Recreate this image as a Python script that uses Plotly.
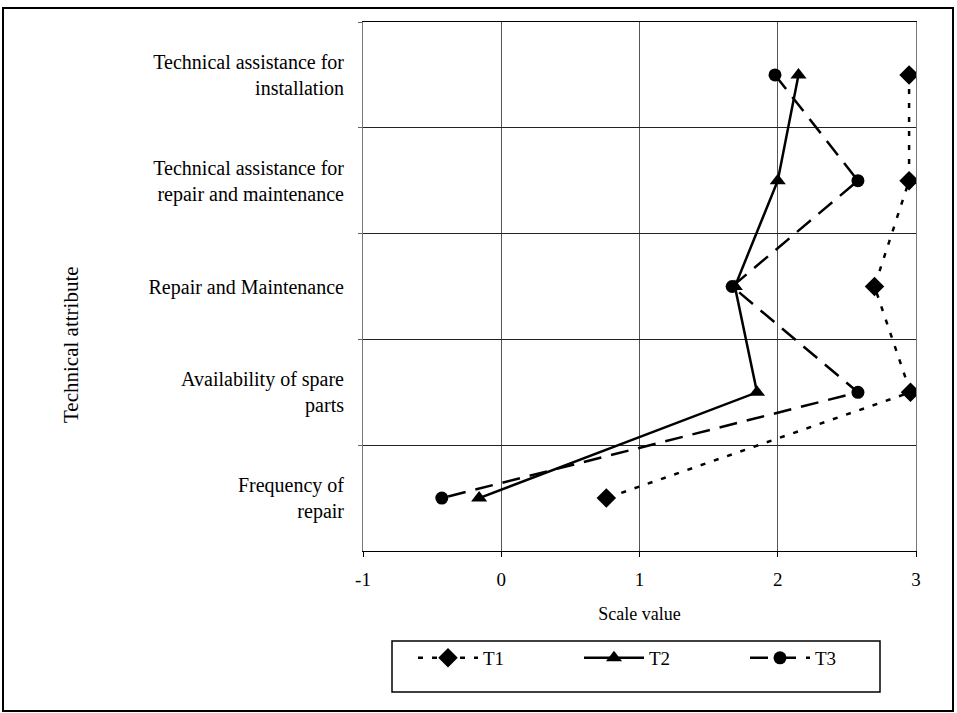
import plotly.graph_objects as go

# Categories (top to bottom as shown)
categories = [
    "Technical assistance for<br>installation",
    "Technical assistance for<br>repair and maintenance",
    "Repair and Maintenance",
    "Availability of spare<br>parts",
    "Frequency of<br>repair",
]
t1_values = [2.95, 2.95, 2.70, 2.96, 0.76]
t2_values = [2.15, 2.00, 1.69, 1.85, -0.16]
t3_values = [1.98, 2.58, 1.67, 2.58, -0.43]
x_ticks = [-1, 0, 1, 2, 3]
series_names = ["T1", "T2", "T3"]

FONT = "Liberation Serif, Times New Roman, serif"

fig = go.Figure()
fig.add_trace(go.Scatter(
    x=t1_values, y=categories, name=series_names[0], mode="lines+markers",
    line=dict(color="black", width=2.5, dash="5px,9px"),
    marker=dict(symbol="diamond", size=15, color="black"),
))
fig.add_trace(go.Scatter(
    x=t2_values, y=categories, name=series_names[1], mode="lines+markers",
    line=dict(color="black", width=2.5),
    marker=dict(symbol="triangle-up", size=14, color="black"),
))
fig.add_trace(go.Scatter(
    x=t3_values, y=categories, name=series_names[2], mode="lines+markers",
    line=dict(color="black", width=2.5, dash="18px,10px"),
    marker=dict(symbol="circle", size=13, color="black"),
))

L, R, T, B = 363, 41, 22, 162
W, H = 957, 713
pw, ph = W - L - R, H - T - B

def px(xp):
    return (xp - L) / pw

def py(yp):
    return (H - B - yp) / ph

fig.update_layout(
    width=W, height=H,
    margin=dict(l=L, r=R, t=T, b=B),
    paper_bgcolor="white", plot_bgcolor="white",
    font=dict(family=FONT, size=18, color="black"),
    showlegend=True,
    hovermode=False,
    legend=dict(
        orientation="h", x=px(413), xanchor="left", y=py(658), yanchor="middle",
        bgcolor="rgba(0,0,0,0)", borderwidth=0,
        font=dict(family=FONT, size=19, color="black"),
        entrywidth=91, itemwidth=60,
    ),
    xaxis=dict(
        range=[-1, 3], tickvals=x_ticks, ticktext=[str(v) for v in x_ticks],
        showgrid=True, gridcolor="#555", gridwidth=1,
        showline=True, linecolor="black", linewidth=1, mirror=True,
        ticks="outside", ticklen=5, tickcolor="black",
        zeroline=False, ticklabelstandoff=6,
        title=dict(text="Scale value", standoff=18, font=dict(family=FONT, size=18)),
        tickfont=dict(family=FONT, size=19),
    ),
    yaxis=dict(
        type="category", categoryorder="array", categoryarray=categories,
        range=[4.5, -0.5], tickson="boundaries",
        showgrid=True, gridcolor="#222", gridwidth=1,
        showline=True, linecolor="#777", linewidth=1, mirror=True,
        ticks="outside", ticklen=4, tickcolor="#666",
        ticklabelstandoff=14,
        tickfont=dict(family=FONT, size=20),
    ),
    shapes=[
        dict(type="rect", xref="paper", yref="paper",
             x0=px(3), x1=px(953), y0=py(711), y1=py(8),
             line=dict(color="black", width=2)),
        dict(type="rect", xref="paper", yref="paper",
             x0=px(392), x1=px(880), y0=py(692), y1=py(641),
             line=dict(color="black", width=1.5)),
    ],
    annotations=[
        dict(text="Technical attribute", xref="paper", yref="paper",
             x=px(57), y=py(345), textangle=-90, showarrow=False,
             font=dict(family=FONT, size=21, color="black")),
    ],
)

fig.write_html("out.html", config={"displayModeBar": False},
               post_script="document.body.style.margin='0px';")
